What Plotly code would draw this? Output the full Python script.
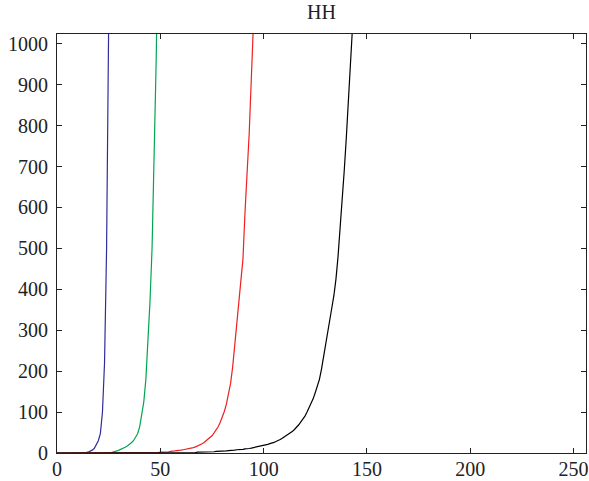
import plotly.graph_objects as go

# ---- data ----
blue_x = list(range(0, 27))
blue_y = [0, 0, 0, 0, 0, 0, 0, 0, 0, 0, 0, 0, 0, 1, 1, 2, 4, 7, 11, 19, 30, 48, 100, 220, 500, 1050, 2000]

green_x = list(range(0, 50))
green_y = [0] * 27 + [2, 3, 5, 7, 9, 11, 14, 17, 20, 25, 30, 37, 47, 64, 95, 125, 180, 270, 370, 500, 700, 960, 1300]

red_x = list(range(0, 96))
red_y = [0] * 48 + [1, 1, 2, 2, 2, 3, 3, 4, 4, 5, 6, 6, 7, 8, 9, 9, 10, 11, 13, 15, 17, 19, 22, 25, 29, 33, 37,
                   42, 49, 56, 64, 75, 88, 102, 120, 143, 170, 210, 262, 310, 360, 410, 475, 590, 680, 780, 910, 1040]

black_x = list(range(0, 144))
black_y = ([0] * 60 + [1, 1, 1, 1, 1, 1, 1, 1, 2, 2, 2, 2, 2, 3, 3, 3, 3, 4, 4, 4, 5, 5, 5, 6, 6, 7, 7, 8, 8, 8, 9, 10,
                        10, 11, 12, 13, 14, 15, 16, 17, 18, 20, 21, 23, 24, 26, 28, 30, 33, 36, 39, 42, 46, 49, 53, 58,
                        63, 69, 76, 82, 90, 100, 110, 121, 133, 148, 163, 180, 205, 233, 262, 290, 320, 355, 385, 425,
                        480, 545, 615, 690, 770, 850, 935, 1040])

series = [
    (blue_x, blue_y, "#2e2e9a"),
    (green_x, green_y, "#00a550"),
    (red_x, red_y, "#ee2020"),
    (black_x, black_y, "#000000"),
]

x_ticks = [0, 50, 100, 150, 200, 250]
y_ticks = [0, 100, 200, 300, 400, 500, 600, 700, 800, 900, 1000]

fig = go.Figure()
for xs, ys, c in series:
    fig.add_trace(go.Scatter(x=xs, y=ys, mode="lines", line=dict(color=c, width=1.2), showlegend=False))

font = dict(family="Liberation Serif, DejaVu Serif, serif", size=20, color="#222222")
axis_common = dict(
    showline=True, linecolor="#222222", linewidth=1.2, mirror="ticks",
    ticks="inside", ticklen=5, tickwidth=1.2, tickcolor="#222222",
    showgrid=False, zeroline=False, tickfont=font, automargin=False,
)
fig.update_xaxes(range=[0, 256], tickvals=x_ticks, ticklabelstandoff=-2, **axis_common)
fig.update_yaxes(range=[0, 1024], tickvals=y_ticks, ticklabelstandoff=4, **axis_common)

fig.update_layout(
    width=589, height=481,
    margin=dict(l=57, r=3, t=34, b=28, autoexpand=False),
    paper_bgcolor="white", plot_bgcolor="white",
    title=dict(text="HH", x=0.5, xanchor="center", xref="paper",
               y=1 - 12 / 481, yanchor="middle", font=font),
)

fig.write_html("out.html", config={"displayModeBar": False},
               post_script="document.body.style.margin='0';document.body.style.padding='0';")
